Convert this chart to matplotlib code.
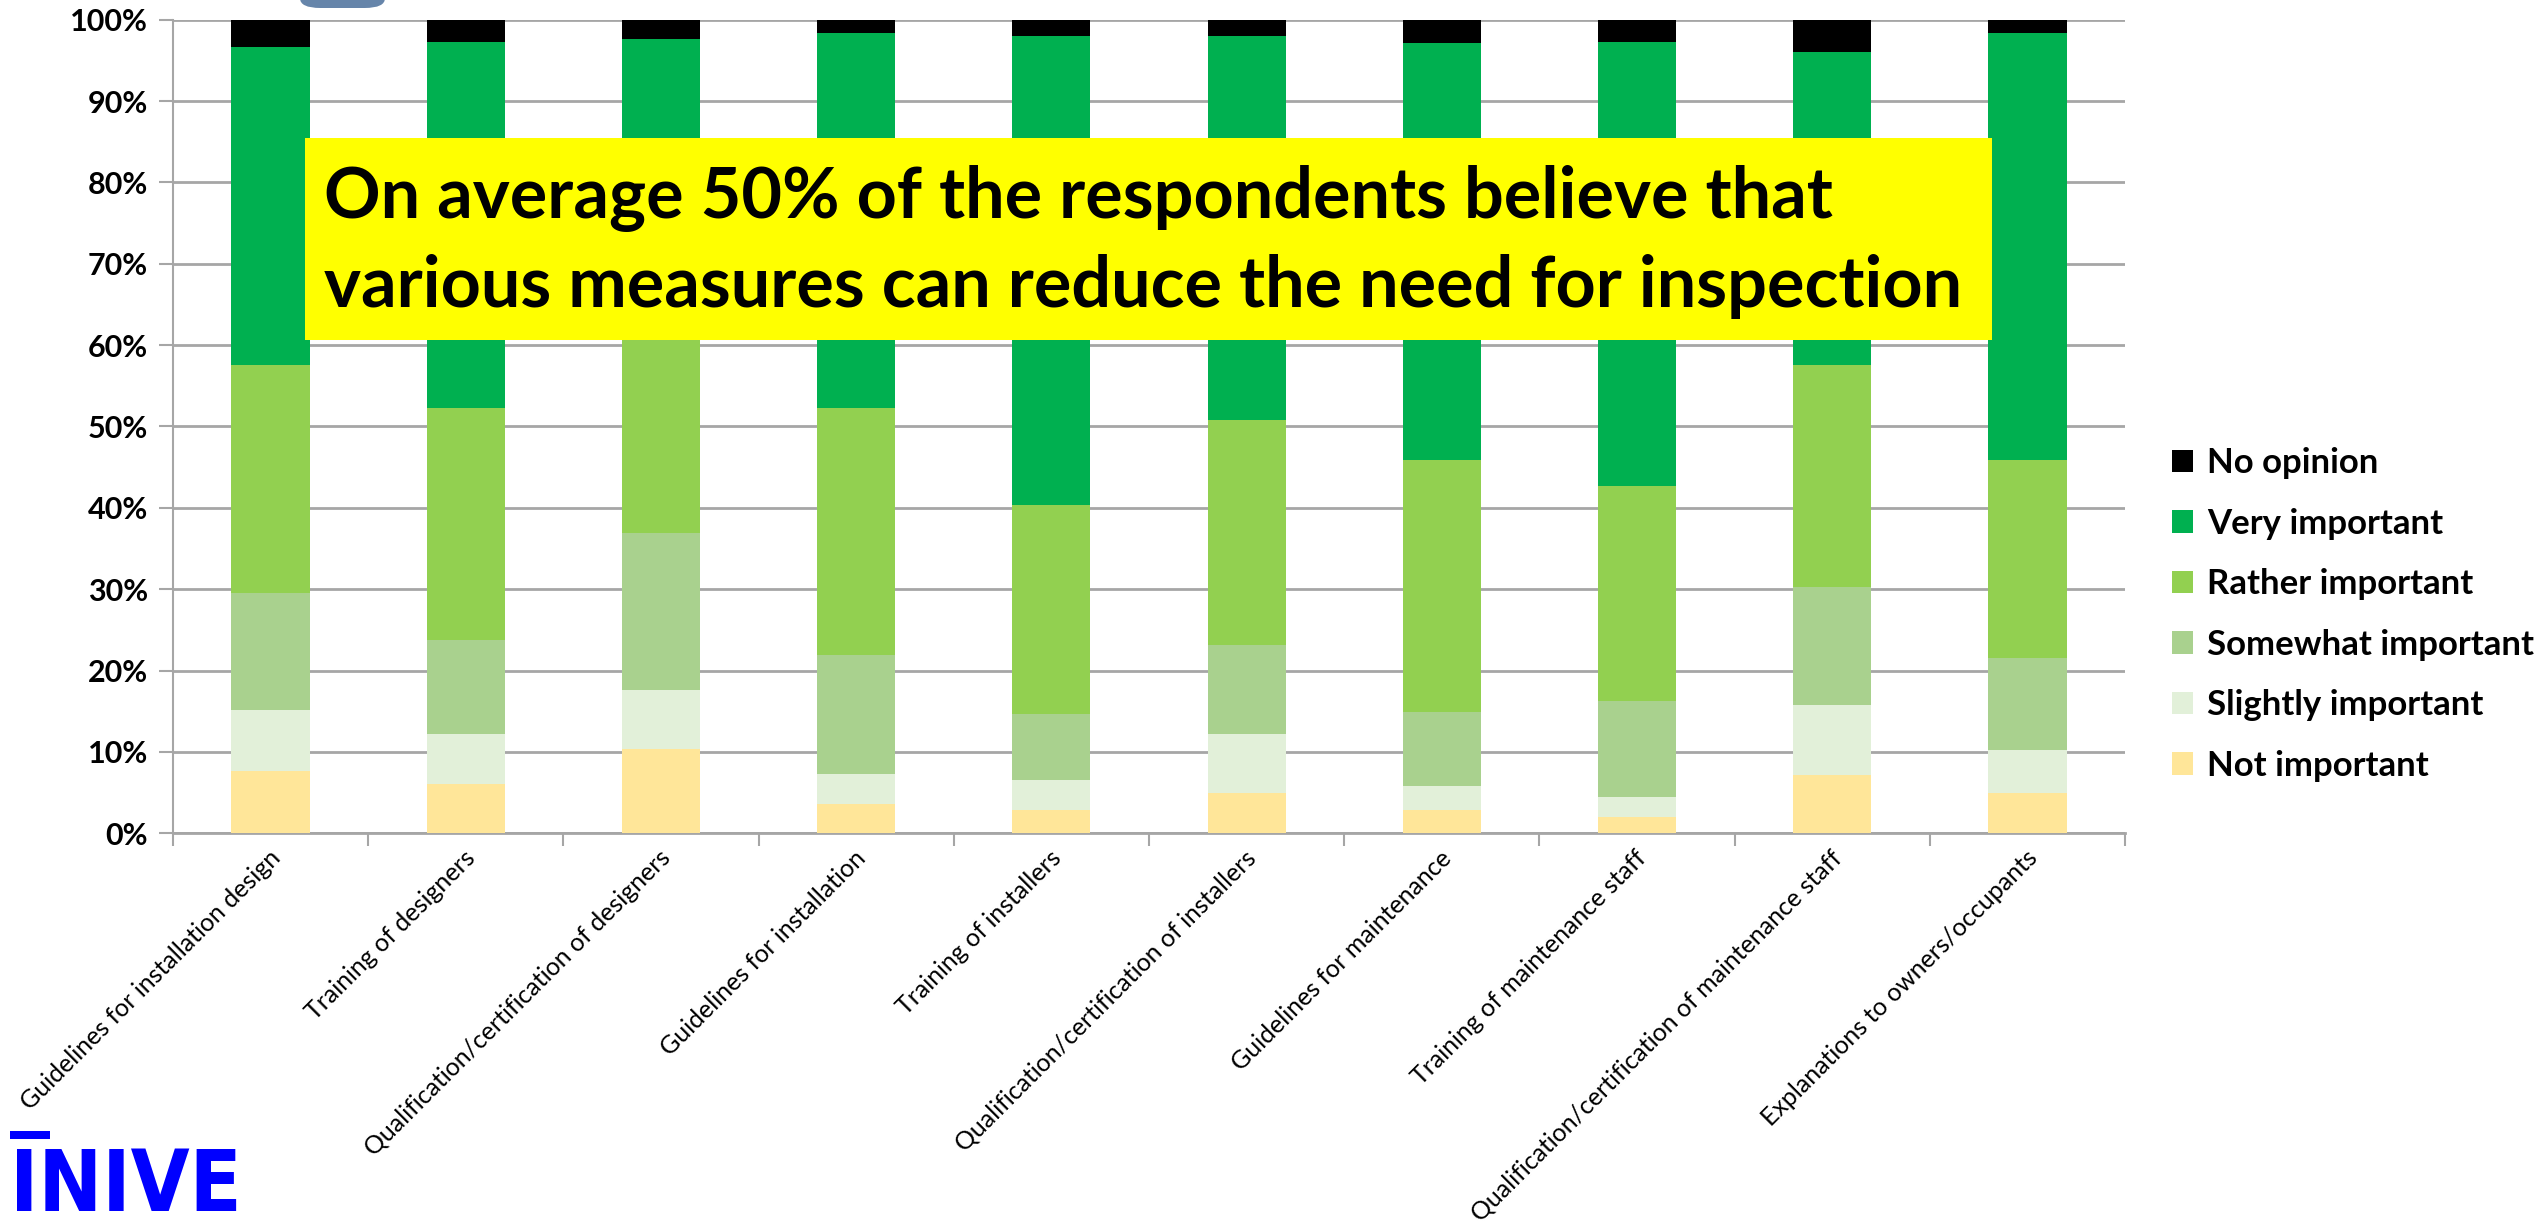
import numpy as np
import matplotlib.pyplot as plt
from matplotlib.patches import Rectangle, FancyBboxPatch

plt.rcParams['font.family'] = ['Lato', 'DejaVu Sans']

# Categories (x axis) and the six stacked answer shares, in percent
measures = ['Guidelines for installation design', 'Training of designers',
            'Qualification/certification of designers', 'Guidelines for installation',
            'Training of installers', 'Qualification/certification of installers',
            'Guidelines for maintenance', 'Training of maintenance staff',
            'Qualification/certification of maintenance staff', 'Explanations to owners/occupants']

not_important = [7.7, 6.1, 10.3, 3.6, 2.9, 4.9, 2.9, 2.0, 7.2, 4.9]
slightly_important = [7.4, 6.1, 7.3, 3.7, 3.6, 7.3, 2.9, 2.5, 8.6, 5.3]
somewhat_important = [14.4, 11.5, 19.3, 14.6, 8.2, 11.0, 9.1, 11.7, 14.5, 11.4]
rather_important = [28.0, 28.6, 29.1, 30.4, 25.7, 27.6, 31.0, 26.5, 27.2, 24.3]
very_important = [39.2, 44.9, 31.6, 46.0, 57.6, 47.2, 51.2, 54.5, 38.5, 52.4]
no_opinion = [3.3, 2.8, 2.4, 1.7, 2.0, 2.0, 2.9, 2.8, 4.0, 1.7]

series = ['Not important', 'Slightly important', 'Somewhat important',
          'Rather important', 'Very important', 'No opinion']
values = [not_important, slightly_important, somewhat_important,
          rather_important, very_important, no_opinion]
colors = ['#FFE699', '#E2F0D9', '#A9D18E', '#92D050', '#00B050', '#000000']

fig = plt.figure(figsize=(25.42, 12.29), dpi=100)
ax = fig.add_axes([0.068, 0.322, 0.768, 0.662])

x = np.arange(len(measures))
bottom = np.zeros(len(measures))
handles = []
for name, vals, col in zip(series, values, colors):
    b = ax.bar(x, vals, 0.4, bottom=bottom, color=col, label=name, zorder=3)
    handles.append(b)
    bottom += np.array(vals)

ax.set_xlim(-0.5, len(measures) - 0.5)
ax.set_ylim(0, 100)
ax.set_yticks(np.arange(0, 101, 10))
ax.set_yticklabels([f'{v}%' for v in range(0, 101, 10)], fontsize=22, fontweight='bold')
ax.yaxis.grid(True, color='#A6A6A6', linewidth=2, zorder=0)
ax.tick_params(axis='y', length=10, width=1.5, color='#A6A6A6', pad=8)

# category boundary ticks on the x axis
ax.set_xticks(np.arange(-0.5, len(measures), 1.0), minor=False)
ax.set_xticklabels([])
ax.tick_params(axis='x', length=9, width=1.5, color='#A6A6A6')
for xi, lab in zip(x, measures):
    ax.text(xi + 0.03, -2.6, lab, rotation=45, ha='right', va='center',
            rotation_mode='anchor', fontsize=18, transform=ax.transData)

for s in ['top', 'right']:
    ax.spines[s].set_visible(False)
ax.spines['left'].set_color('#A6A6A6')
ax.spines['bottom'].set_color('#A6A6A6')
ax.spines['left'].set_linewidth(1.5)
ax.spines['bottom'].set_linewidth(2)

leg = fig.legend(handles[::-1], series[::-1], loc='center left',
                 bbox_to_anchor=(0.842, 0.5), frameon=False,
                 prop={'size': 25, 'weight': 'bold'},
                 handlelength=0.62, handleheight=0.62, handletextpad=0.4,
                 labelspacing=0.82)

# yellow annotation box
fig.patches.append(Rectangle((305 / 2542, 1 - 340 / 1229), 1687 / 2542, 202 / 1229,
                             transform=fig.transFigure, facecolor='#FFFF00',
                             edgecolor='none', zorder=5))
fig.text(324 / 2542, 1 - 218 / 1229, 'On average 50% of the respondents believe that',
         fontsize=50.5, fontweight='bold', va='baseline', ha='left', zorder=6)
fig.text(324 / 2542, 1 - 307 / 1229, 'various measures can reduce the need for inspection',
         fontsize=50.5, fontweight='bold', va='baseline', ha='left', zorder=6)

# small clipped tab at the top
fig.patches.append(FancyBboxPatch((300 / 2542, 1 - 8 / 1229), 85 / 2542, 30 / 1229,
                                  boxstyle='round,pad=0,rounding_size=0.008',
                                  transform=fig.transFigure, facecolor='#6685AA',
                                  edgecolor='none'))

# INIVE logo
fig.patches.append(Rectangle((10 / 2542, 1 - 1139 / 1229), 40 / 2542, 8 / 1229,
                             transform=fig.transFigure, facecolor='#0000FF', edgecolor='none'))
fig.text(10 / 2542, 1 - 1211 / 1229, 'INIVE', color='#0000FF', fontsize=61,
         fontweight='bold', family='DejaVu Sans', fontstretch='condensed',
         va='baseline', ha='left')

plt.savefig('out.png', dpi=100)
